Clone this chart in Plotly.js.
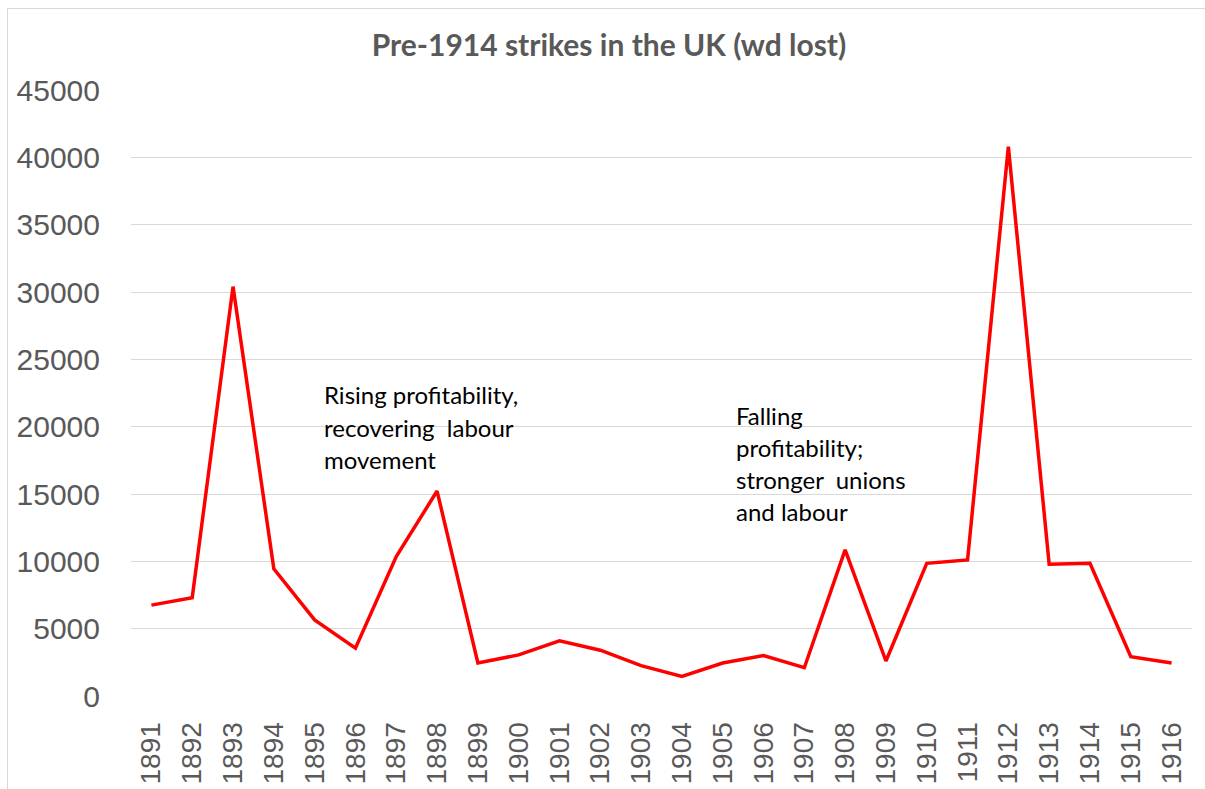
<!DOCTYPE html>
<html>
<head>
<meta charset="utf-8">
<script src="https://cdn.plot.ly/plotly-3.0.1.min.js"></script>
<style>
  html, body { margin: 0; padding: 0; background: #ffffff; }
  #chart { width: 1205px; height: 789px; }
  #frame { position: absolute; left: 7px; top: 8px; width: 1220px; height: 800px;
           border: 1px solid #d9d9d9; pointer-events: none; }
</style>
</head>
<body>
<div id="chart"></div>
<div id="frame"></div>
<script>
const years = ['1891','1892','1893','1894','1895','1896','1897','1898','1899','1900',
               '1901','1902','1903','1904','1905','1906','1907','1908','1909','1910',
               '1911','1912','1913','1914','1915','1916'];
const daysLost = [6750, 7300, 30400, 9450, 5650, 3550, 10350, 15220, 2450, 3050,
                  4100, 3400, 2250, 1450, 2450, 3000, 2100, 10850, 2600, 9850,
                  10100, 40800, 9780, 9850, 2920, 2450];
const yTicks = [0, 5000, 10000, 15000, 20000, 25000, 30000, 35000, 40000, 45000];
const note1 = ['Rising profitability,', 'recovering  labour', 'movement'];
const note2 = ['Falling', 'profitability;', 'stronger  unions', 'and labour'];

const L = 131, R = 1192, T = 90, B = 696;
function px2paperX(px) { return (px - L) / (R - L); }
function px2paperY(py) { return (B - py) / (B - T); }

const noteFont = { family: 'Lato, sans-serif', size: 24, color: '#000000' };
const annotations = [];
const n1y = [394, 427, 460];
note1.forEach((t, i) => annotations.push({
  text: t, xref: 'paper', yref: 'paper', x: px2paperX(322), y: px2paperY(n1y[i]),
  xanchor: 'left', yanchor: 'middle', showarrow: false, align: 'left', font: noteFont
}));
const n2y = [415, 448, 479, 511];
note2.forEach((t, i) => annotations.push({
  text: t, xref: 'paper', yref: 'paper', x: px2paperX(734), y: px2paperY(n2y[i]),
  xanchor: 'left', yanchor: 'middle', showarrow: false, align: 'left', font: noteFont
}));

const trace = {
  x: years, y: daysLost, type: 'scatter', mode: 'lines',
  line: { color: '#ff0000', width: 3.5 }, hoverinfo: 'x+y'
};

const layout = {
  width: 1205, height: 789,
  margin: { l: L, r: 1205 - R, t: T, b: 789 - B },
  paper_bgcolor: '#ffffff', plot_bgcolor: '#ffffff',
  showlegend: false,
  title: {
    text: '<b>Pre-1914 strikes in the UK (wd lost)</b>',
    font: { family: 'Lato, sans-serif', size: 30, color: '#595959' },
    x: 609 / 1205, xref: 'container', xanchor: 'center',
    y: 1 - 45 / 789, yref: 'container', yanchor: 'middle'
  },
  xaxis: {
    type: 'category', range: [-0.5, 25.5], showgrid: false, zeroline: false,
    showline: false, ticks: 'outside', ticklen: 14, tickcolor: 'rgba(0,0,0,0)',
    tickangle: -90, fixedrange: true,
    tickfont: { family: '"Liberation Sans", Arial, sans-serif', size: 28, color: '#595959' }
  },
  yaxis: {
    range: [0, 45000], tickvals: yTicks, ticktext: yTicks.map(String),
    showgrid: true, gridcolor: '#d9d9d9', gridwidth: 1,
    zeroline: false, showline: false, ticks: 'outside', ticklen: 24,
    tickcolor: 'rgba(0,0,0,0)', fixedrange: true,
    tickfont: { family: '"Liberation Sans", Arial, sans-serif', size: 30, color: '#595959' }
  },
  annotations: annotations
};

Plotly.newPlot('chart', [trace], layout, { displayModeBar: false, staticPlot: true });
</script>
</body>
</html>
